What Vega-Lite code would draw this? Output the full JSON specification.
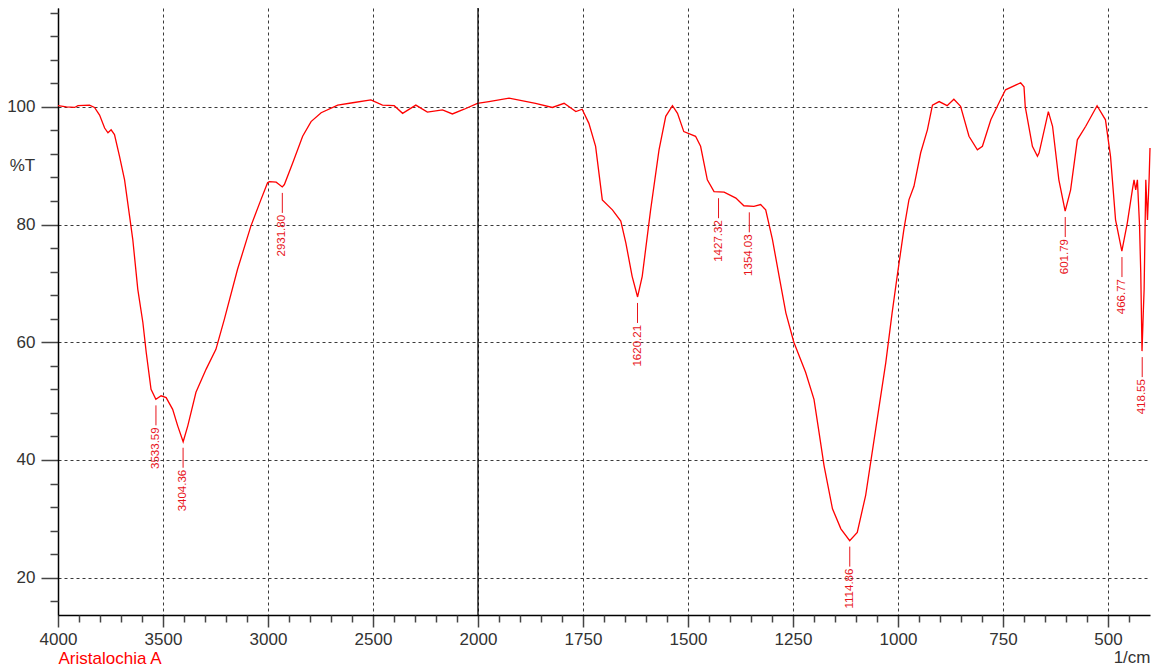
{
  "$schema": "https://vega.github.io/schema/vega-lite/v6.json",
  "width": 1093,
  "height": 607,
  "autosize": {"type": "none"},
  "padding": {"left": 58, "top": 8, "right": 7, "bottom": 56},
  "background": "white",
  "view": {"stroke": null},
  "config": {"font": "Liberation Sans"},
  "datasets": {
    "spectrum": [
      {"wavenumber": 4000, "T": 100.2}, {"wavenumber": 3960, "T": 100.0}, {"wavenumber": 3921, "T": 99.9},
      {"wavenumber": 3905, "T": 100.2}, {"wavenumber": 3850, "T": 100.3}, {"wavenumber": 3826, "T": 99.9},
      {"wavenumber": 3802, "T": 98.6}, {"wavenumber": 3778, "T": 96.4}, {"wavenumber": 3762, "T": 95.6},
      {"wavenumber": 3747, "T": 96.1}, {"wavenumber": 3731, "T": 95.3}, {"wavenumber": 3707, "T": 91.6},
      {"wavenumber": 3683, "T": 87.6}, {"wavenumber": 3659, "T": 81.4}, {"wavenumber": 3644, "T": 77.5},
      {"wavenumber": 3620, "T": 69.0}, {"wavenumber": 3596, "T": 63.4}, {"wavenumber": 3580, "T": 58.3},
      {"wavenumber": 3557, "T": 52.0}, {"wavenumber": 3534, "T": 50.3}, {"wavenumber": 3509, "T": 50.9},
      {"wavenumber": 3485, "T": 50.6}, {"wavenumber": 3454, "T": 48.6}, {"wavenumber": 3430, "T": 45.8},
      {"wavenumber": 3404, "T": 43.1}, {"wavenumber": 3382, "T": 45.8}, {"wavenumber": 3343, "T": 51.5},
      {"wavenumber": 3295, "T": 55.4}, {"wavenumber": 3248, "T": 58.8}, {"wavenumber": 3208, "T": 63.9},
      {"wavenumber": 3145, "T": 72.4}, {"wavenumber": 3082, "T": 79.7}, {"wavenumber": 3034, "T": 84.2},
      {"wavenumber": 3002, "T": 87.1}, {"wavenumber": 2993, "T": 87.3}, {"wavenumber": 2961, "T": 87.2},
      {"wavenumber": 2932, "T": 86.4}, {"wavenumber": 2922, "T": 86.8}, {"wavenumber": 2882, "T": 90.5},
      {"wavenumber": 2835, "T": 95.0}, {"wavenumber": 2795, "T": 97.5}, {"wavenumber": 2747, "T": 99.0},
      {"wavenumber": 2668, "T": 100.3}, {"wavenumber": 2597, "T": 100.7}, {"wavenumber": 2510, "T": 101.2},
      {"wavenumber": 2455, "T": 100.3}, {"wavenumber": 2399, "T": 100.2}, {"wavenumber": 2359, "T": 98.9},
      {"wavenumber": 2296, "T": 100.3}, {"wavenumber": 2241, "T": 99.1}, {"wavenumber": 2169, "T": 99.5},
      {"wavenumber": 2122, "T": 98.8}, {"wavenumber": 2066, "T": 99.6}, {"wavenumber": 2003, "T": 100.6},
      {"wavenumber": 1974, "T": 100.9}, {"wavenumber": 1926, "T": 101.5}, {"wavenumber": 1863, "T": 100.6},
      {"wavenumber": 1823, "T": 99.9}, {"wavenumber": 1795, "T": 100.6}, {"wavenumber": 1767, "T": 99.2},
      {"wavenumber": 1752, "T": 99.6}, {"wavenumber": 1736, "T": 97.2}, {"wavenumber": 1720, "T": 93.3},
      {"wavenumber": 1704, "T": 84.2}, {"wavenumber": 1680, "T": 82.5}, {"wavenumber": 1660, "T": 80.6},
      {"wavenumber": 1648, "T": 76.9}, {"wavenumber": 1633, "T": 71.2}, {"wavenumber": 1620, "T": 67.7},
      {"wavenumber": 1609, "T": 71.2}, {"wavenumber": 1589, "T": 82.5}, {"wavenumber": 1569, "T": 92.7},
      {"wavenumber": 1553, "T": 98.4}, {"wavenumber": 1537, "T": 100.2}, {"wavenumber": 1525, "T": 98.9},
      {"wavenumber": 1510, "T": 95.8}, {"wavenumber": 1482, "T": 95.0}, {"wavenumber": 1470, "T": 93.3},
      {"wavenumber": 1454, "T": 87.6}, {"wavenumber": 1438, "T": 85.6}, {"wavenumber": 1414, "T": 85.5},
      {"wavenumber": 1386, "T": 84.5}, {"wavenumber": 1367, "T": 83.2}, {"wavenumber": 1343, "T": 83.1},
      {"wavenumber": 1327, "T": 83.4}, {"wavenumber": 1315, "T": 82.5}, {"wavenumber": 1299, "T": 77.5},
      {"wavenumber": 1283, "T": 71.2}, {"wavenumber": 1267, "T": 65.0}, {"wavenumber": 1248, "T": 60.0},
      {"wavenumber": 1220, "T": 54.9}, {"wavenumber": 1200, "T": 50.3}, {"wavenumber": 1188, "T": 44.7},
      {"wavenumber": 1176, "T": 39.0}, {"wavenumber": 1156, "T": 31.7}, {"wavenumber": 1136, "T": 28.3},
      {"wavenumber": 1115, "T": 26.3}, {"wavenumber": 1097, "T": 27.7}, {"wavenumber": 1077, "T": 34.0},
      {"wavenumber": 1053, "T": 45.3}, {"wavenumber": 1029, "T": 56.6}, {"wavenumber": 1014, "T": 65.0},
      {"wavenumber": 1002, "T": 71.2}, {"wavenumber": 986, "T": 79.2}, {"wavenumber": 974, "T": 84.2},
      {"wavenumber": 962, "T": 86.5}, {"wavenumber": 946, "T": 92.2}, {"wavenumber": 930, "T": 96.1},
      {"wavenumber": 918, "T": 100.3}, {"wavenumber": 902, "T": 100.9}, {"wavenumber": 883, "T": 100.2},
      {"wavenumber": 867, "T": 101.3}, {"wavenumber": 851, "T": 100.1}, {"wavenumber": 831, "T": 95.0},
      {"wavenumber": 811, "T": 92.7}, {"wavenumber": 799, "T": 93.3}, {"wavenumber": 779, "T": 97.8},
      {"wavenumber": 756, "T": 101.2}, {"wavenumber": 744, "T": 102.9}, {"wavenumber": 708, "T": 104.1},
      {"wavenumber": 700, "T": 103.4}, {"wavenumber": 697, "T": 100.0}, {"wavenumber": 680, "T": 93.3},
      {"wavenumber": 668, "T": 91.6}, {"wavenumber": 664, "T": 92.2}, {"wavenumber": 642, "T": 99.2},
      {"wavenumber": 632, "T": 96.7}, {"wavenumber": 617, "T": 87.6}, {"wavenumber": 602, "T": 82.3},
      {"wavenumber": 589, "T": 85.9}, {"wavenumber": 573, "T": 94.4}, {"wavenumber": 553, "T": 96.7},
      {"wavenumber": 526, "T": 100.2}, {"wavenumber": 506, "T": 97.8}, {"wavenumber": 494, "T": 91.6},
      {"wavenumber": 482, "T": 80.8}, {"wavenumber": 467, "T": 75.5}, {"wavenumber": 454, "T": 80.3},
      {"wavenumber": 442, "T": 85.9}, {"wavenumber": 438, "T": 87.6}, {"wavenumber": 434, "T": 85.9},
      {"wavenumber": 430, "T": 87.6}, {"wavenumber": 425, "T": 80.0}, {"wavenumber": 422, "T": 71.8},
      {"wavenumber": 419, "T": 58.5}, {"wavenumber": 416, "T": 65.0}, {"wavenumber": 414, "T": 69.0},
      {"wavenumber": 410, "T": 87.6}, {"wavenumber": 406, "T": 80.8}, {"wavenumber": 402, "T": 88.0},
      {"wavenumber": 400, "T": 93.0}
    ],
    "peaks": [
      {"wn": 3533.59, "T": 50.3, "label": "3533.59"},
      {"wn": 3404.36, "T": 43.1, "label": "3404.36"},
      {"wn": 2931.80, "T": 86.4, "label": "2931.80"},
      {"wn": 1620.21, "T": 67.7, "label": "1620.21"},
      {"wn": 1427.32, "T": 85.5, "label": "1427.32"},
      {"wn": 1354.03, "T": 83.1, "label": "1354.03"},
      {"wn": 1114.86, "T": 26.3, "label": "1114.86"},
      {"wn": 601.79, "T": 82.3, "label": "601.79"},
      {"wn": 466.77, "T": 75.5, "label": "466.77"},
      {"wn": 418.55, "T": 58.5, "label": "418.55"}
    ]
  },
  "layer": [
    {
      "data": {"name": "spectrum"},
      "mark": {"type": "line", "color": "#ff0000", "strokeWidth": 1.3},
      "encoding": {
        "x": {
          "field": "wavenumber", "type": "quantitative",
          "scale": {"domain": [4000, 2000, 400], "range": [0, 420, 1092], "nice": false, "zero": false},
          "axis": {
            "orient": "bottom",
            "values": [4000, 3500, 3000, 2500, 2000, 1750, 1500, 1250, 1000, 750, 500],
            "format": "d", "labelFlush": false, "labelOverlap": false,
            "tickSize": 12, "tickWidth": 1.5, "tickColor": "#444",
            "domainColor": "#000", "domainWidth": 1.5,
            "labelPadding": 4, "labelFontSize": 17, "labelColor": "#333", "labelFont": "Liberation Sans",
            "grid": true, "gridDash": [3, 3], "gridColor": "#3a3a3a", "gridWidth": 1,
            "title": "1/cm", "titleX": 1092, "titleY": 47, "titleAlign": "right", "titleBaseline": "alphabetic",
            "titleFontSize": 17, "titleFontWeight": "normal", "titleColor": "#333", "titleFont": "Liberation Sans"
          }
        },
        "y": {
          "field": "T", "type": "quantitative",
          "scale": {"domain": [13.66, 116.8], "nice": false, "zero": false},
          "axis": {
            "orient": "left",
            "values": [20, 40, 60, 80, 100],
            "tickSize": 17, "tickWidth": 1.5, "tickColor": "#444",
            "domainColor": "#000", "domainWidth": 1.5,
            "labelPadding": 6, "labelFontSize": 17, "labelColor": "#333", "labelFont": "Liberation Sans",
            "grid": true, "gridDash": [3, 3], "gridColor": "#3a3a3a", "gridWidth": 1,
            "title": "%T", "titleAngle": 0, "titleX": -36, "titleY": 157, "titleAlign": "center", "titleBaseline": "middle",
            "titleFontSize": 17, "titleFontWeight": "normal", "titleColor": "#333", "titleFont": "Liberation Sans"
          }
        }
      }
    },
    {
      "data": {"name": "peaks"},
      "mark": {"type": "rule", "color": "#e8141b", "strokeWidth": 1, "yOffset": 6, "y2Offset": 26},
      "encoding": {
        "x": {
          "field": "wn", "type": "quantitative",
          "axis": {
            "orient": "bottom",
            "values": [3900, 3800, 3700, 3600, 3400, 3300, 3200, 3100, 2900, 2800, 2700, 2600, 2400, 2300, 2200, 2100,
                       1950, 1900, 1850, 1800, 1700, 1650, 1600, 1550, 1450, 1400, 1350, 1300, 1200, 1150, 1100, 1050,
                       950, 900, 850, 800, 700, 650, 600, 550, 450],
            "labels": false, "domain": false, "grid": false,
            "tickSize": 7, "tickWidth": 1.5, "tickColor": "#444",
            "title": "Aristalochia A", "titleX": 0, "titleY": 48, "titleAlign": "left", "titleBaseline": "alphabetic",
            "titleFontSize": 17, "titleFontWeight": "normal", "titleColor": "#ff0000", "titleFont": "Liberation Sans"
          }
        },
        "y": {
          "field": "T", "type": "quantitative",
          "axis": {
            "orient": "left",
            "values": [16, 24, 28, 32, 36, 44, 48, 52, 56, 64, 68, 72, 76, 84, 88, 92, 96, 104, 108, 112, 116],
            "labels": false, "domain": false, "grid": false,
            "tickSize": 8, "tickWidth": 1.5, "tickColor": "#444", "title": null
          }
        },
        "y2": {"field": "T"}
      }
    },
    {
      "data": {"name": "peaks"},
      "mark": {"type": "text", "angle": 270, "align": "right", "baseline": "middle", "yOffset": 28,
               "fontSize": 11.5, "color": "#e8141b", "font": "Liberation Sans"},
      "encoding": {
        "x": {"field": "wn", "type": "quantitative", "axis": null},
        "y": {"field": "T", "type": "quantitative", "axis": null},
        "text": {"field": "label"}
      }
    },
    {
      "data": {"values": [{}]},
      "mark": {"type": "rule", "color": "#000", "strokeWidth": 1.3},
      "encoding": {"x": {"datum": 2000, "type": "quantitative", "axis": null}}
    }
  ],
  "resolve": {"axis": {"x": "independent", "y": "independent"}}
}
